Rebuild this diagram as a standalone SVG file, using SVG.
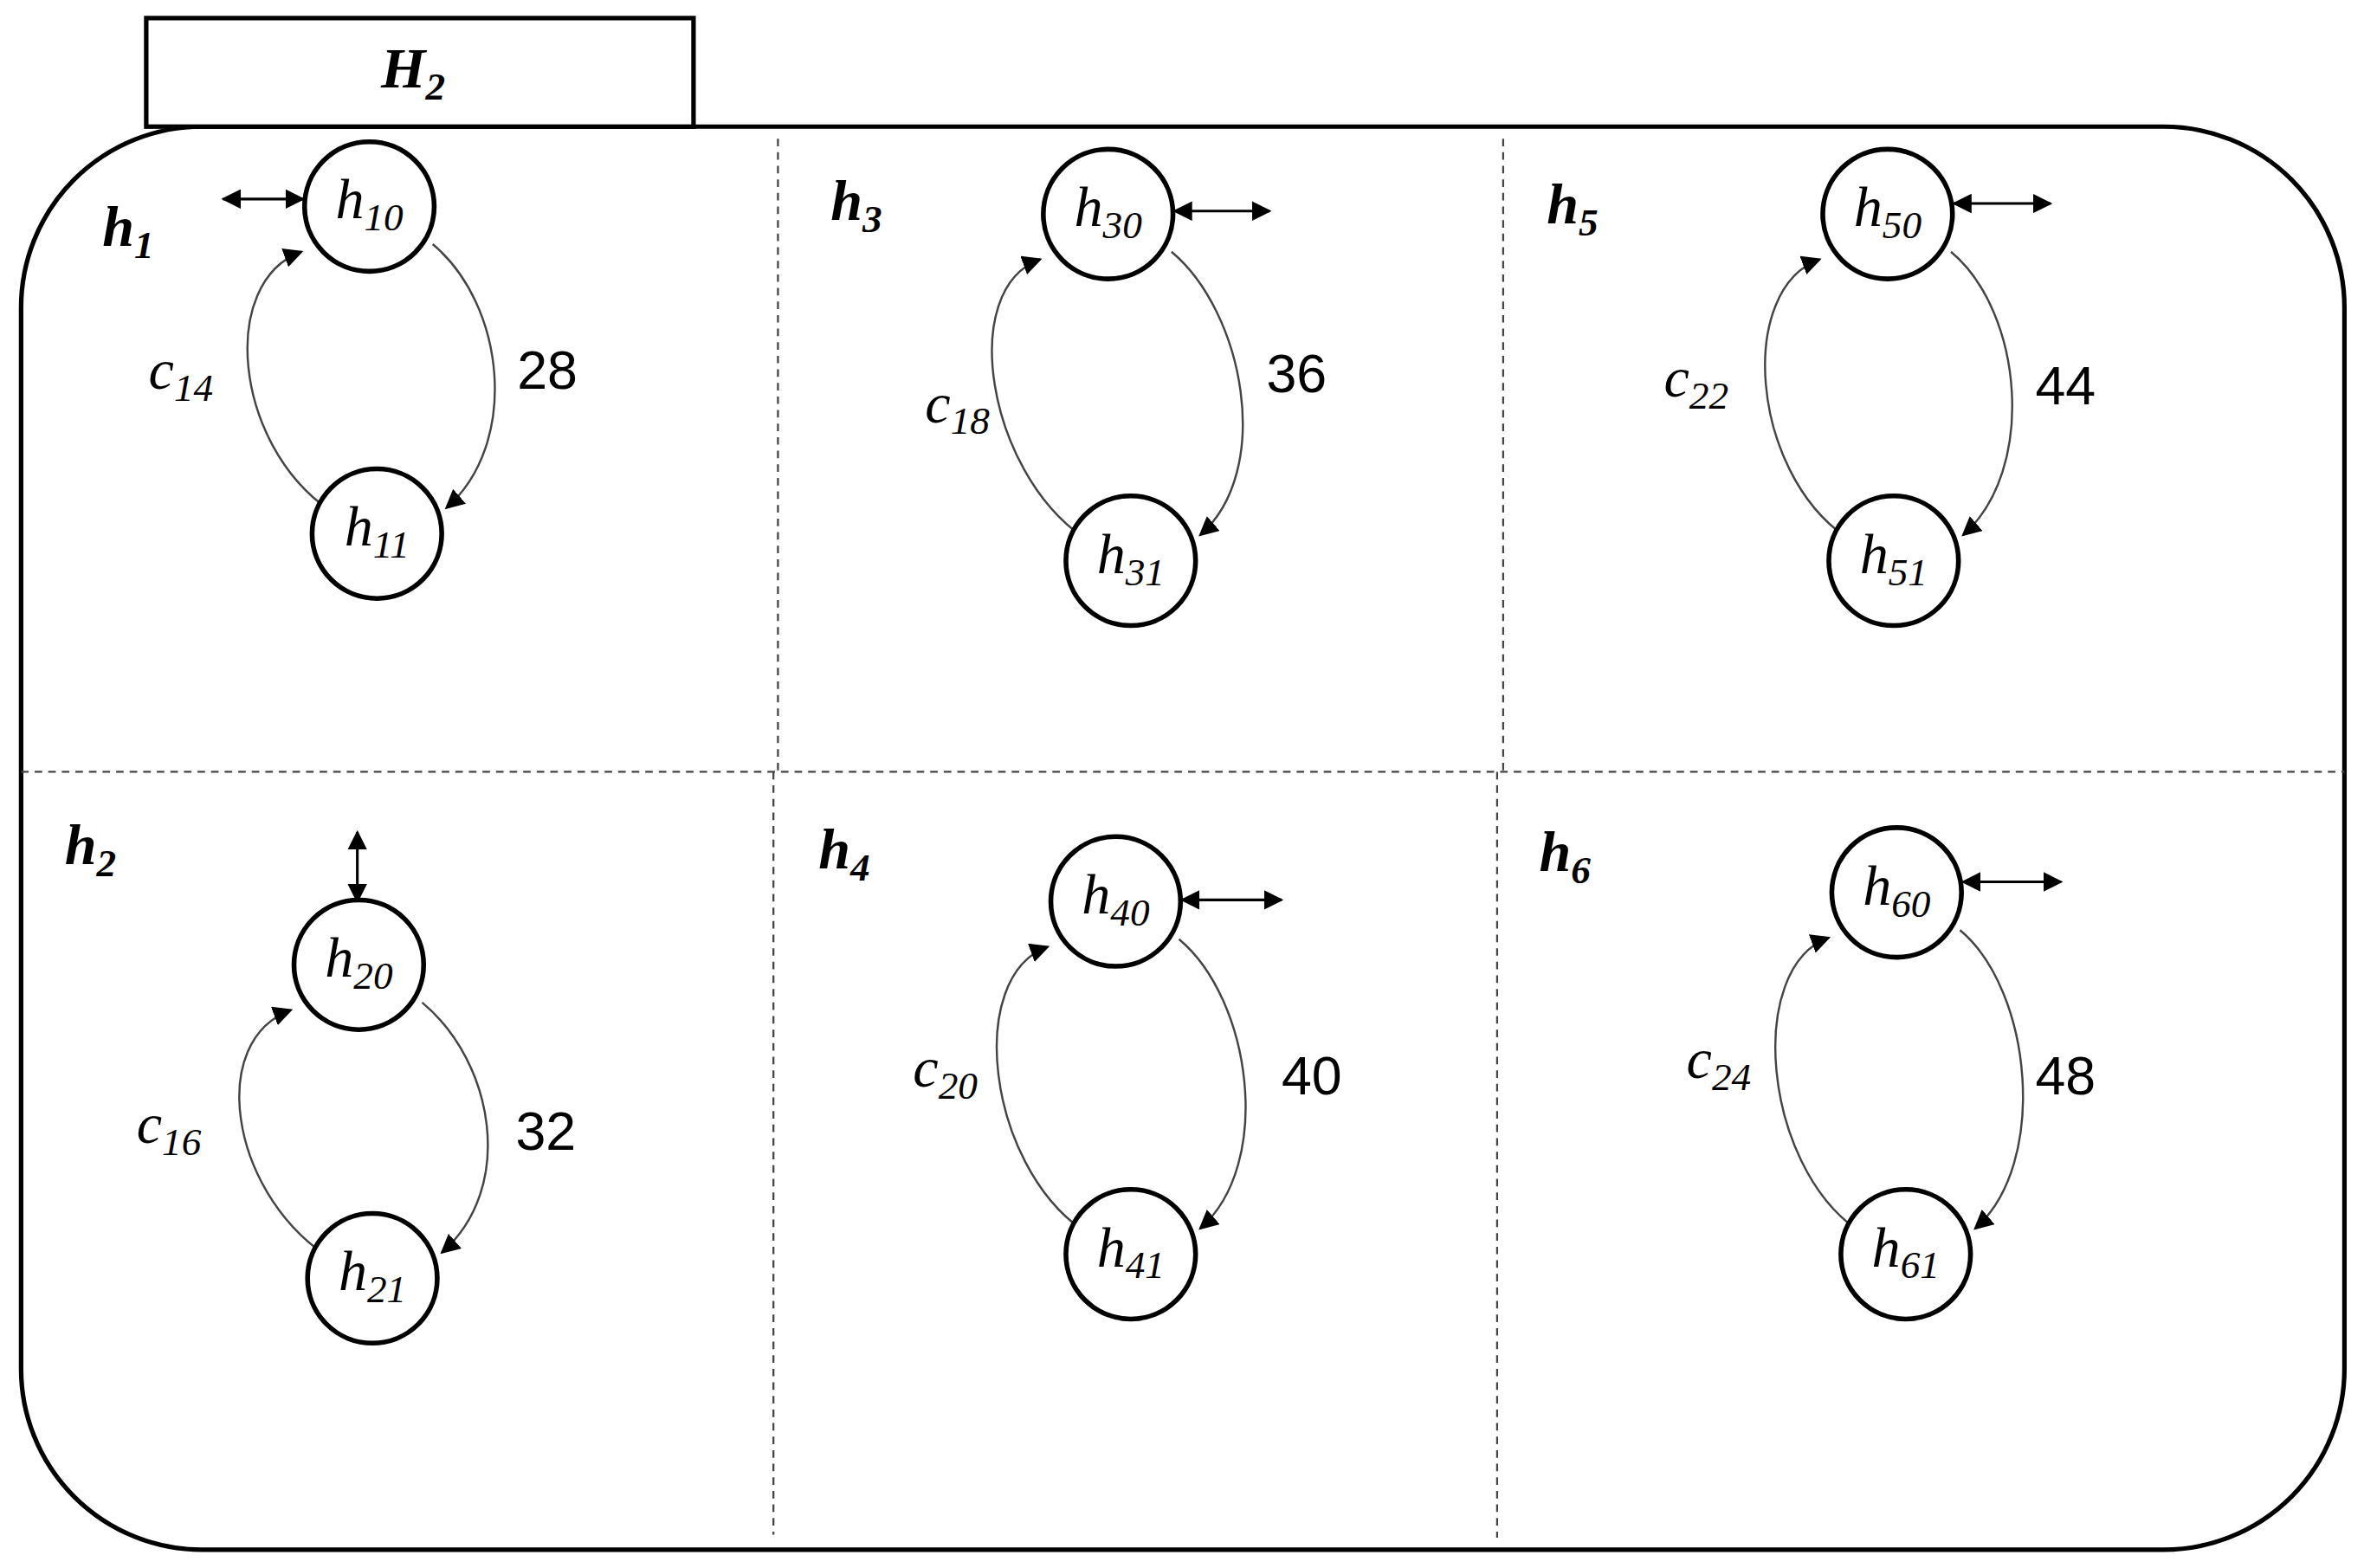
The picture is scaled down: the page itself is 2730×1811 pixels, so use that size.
<svg xmlns="http://www.w3.org/2000/svg" width="2730" height="1811" viewBox="0 0 2730 1811">
<defs>
<marker id="ah" viewBox="0 0 10 10" refX="9" refY="5" markerWidth="13" markerHeight="13" markerUnits="userSpaceOnUse" orient="auto-start-reverse"><path d="M0,0 L10,5 L0,10 z" fill="#000"/></marker>
</defs>
<style>
.nd{fill:#fff;stroke:#000;stroke-width:3.2}
.nt{font-family:"Liberation Serif",serif;font-style:italic;font-size:38px;text-anchor:middle}
.cl{font-family:"Liberation Serif",serif;font-style:italic;font-size:38px;text-anchor:middle}
.num{font-family:"Liberation Sans",sans-serif;font-size:36px;text-anchor:middle}
.lb{font-family:"Liberation Serif",serif;font-style:italic;font-weight:bold;font-size:38px;text-anchor:middle}
.cv{fill:none;stroke:#444;stroke-width:1.4;marker-end:url(#ah)}
.da{fill:none;stroke:#000;stroke-width:1.8;marker-start:url(#ah);marker-end:url(#ah)}
.dsh{stroke:#444;stroke-width:1.3;stroke-dasharray:5,4}
</style>
<rect width="2730" height="1811" fill="#fff"/>
<g transform="scale(1.7411)">
<g id="frame">
<rect x="14" y="84" width="1541" height="944" rx="120" ry="120" fill="none" stroke="#000" stroke-width="3"/>
<rect x="97" y="12" width="363" height="72" fill="#fff" stroke="#000" stroke-width="3"/>
<text x="274" y="58" class="lb">H<tspan font-size="26" dy="8">2</tspan></text>
<line x1="516" y1="92" x2="516" y2="512" class="dsh"/>
<line x1="997" y1="92" x2="997" y2="512" class="dsh"/>
<line x1="14" y1="512" x2="1555" y2="512" class="dsh"/>
<line x1="513" y1="512" x2="513" y2="1018" class="dsh"/>
<line x1="993" y1="512" x2="993" y2="1020" class="dsh"/>
</g>
<g id="connectors">
<path class="cv" d="M287,162 C335,202 345,294 296,337"/>
<path class="cv" d="M218,338 C155,294 145,187 200,167"/>
<path class="cv" d="M777,167 C825,207 845,312 796,355"/>
<path class="cv" d="M718,356 C655,312 635,192 690,172"/>
<path class="cv" d="M1294,167 C1342,207 1351,312 1302,355"/>
<path class="cv" d="M1224,356 C1161,312 1152,192 1207,172"/>
<path class="cv" d="M280,665 C328,705 342,788 293,831"/>
<path class="cv" d="M215,832 C152,788 138,690 193,670"/>
<path class="cv" d="M782,623 C830,663 845,772 796,815"/>
<path class="cv" d="M718,816 C655,772 640,648 695,628"/>
<path class="cv" d="M1300,617 C1348,657 1359,772 1310,815"/>
<path class="cv" d="M1232,816 C1169,772 1158,642 1213,622"/>
<line class="da" x1="148" y1="132" x2="201" y2="132"/>
<line class="da" x1="779" y1="140" x2="842" y2="140"/>
<line class="da" x1="1296" y1="135" x2="1360" y2="135"/>
<line class="da" x1="237" y1="552" x2="237" y2="598"/>
<line class="da" x1="784" y1="597" x2="850" y2="597"/>
<line class="da" x1="1302" y1="585" x2="1367" y2="585"/>
<text class="num" x="363" y="258">28</text>
<text class="num" x="860" y="260">36</text>
<text class="num" x="1370" y="268">44</text>
<text class="num" x="362" y="763">32</text>
<text class="num" x="870" y="726">40</text>
<text class="num" x="1370" y="726">48</text>
<text class="cl" x="120" y="258">c<tspan font-size="26" dy="8">14</tspan></text>
<text class="cl" x="635" y="280">c<tspan font-size="26" dy="8">18</tspan></text>
<text class="cl" x="1125" y="263">c<tspan font-size="26" dy="8">22</tspan></text>
<text class="cl" x="112" y="758">c<tspan font-size="26" dy="8">16</tspan></text>
<text class="cl" x="627" y="721">c<tspan font-size="26" dy="8">20</tspan></text>
<text class="cl" x="1140" y="715">c<tspan font-size="26" dy="8">24</tspan></text>
</g>
<g id="labels">
<text class="lb" x="85" y="163">h<tspan font-size="26" dy="8">1</tspan></text>
<text class="lb" x="568" y="146">h<tspan font-size="26" dy="8">3</tspan></text>
<text class="lb" x="1043" y="148">h<tspan font-size="26" dy="8">5</tspan></text>
<text class="lb" x="60" y="573">h<tspan font-size="26" dy="8">2</tspan></text>
<text class="lb" x="560" y="576">h<tspan font-size="26" dy="8">4</tspan></text>
<text class="lb" x="1038" y="578">h<tspan font-size="26" dy="8">6</tspan></text>
</g>
<g id="h10"><circle class="nd" cx="245" cy="137" r="43"/><text class="nt" x="245" y="145">h<tspan font-size="26" dy="8">10</tspan></text></g>
<g id="h11"><circle class="nd" cx="250" cy="354" r="43"/><text class="nt" x="250" y="362">h<tspan font-size="26" dy="8">11</tspan></text></g>
<g id="h30"><circle class="nd" cx="735" cy="142" r="43"/><text class="nt" x="735" y="150">h<tspan font-size="26" dy="8">30</tspan></text></g>
<g id="h31"><circle class="nd" cx="750" cy="372" r="43"/><text class="nt" x="750" y="380">h<tspan font-size="26" dy="8">31</tspan></text></g>
<g id="h50"><circle class="nd" cx="1252" cy="142" r="43"/><text class="nt" x="1252" y="150">h<tspan font-size="26" dy="8">50</tspan></text></g>
<g id="h51"><circle class="nd" cx="1256" cy="372" r="43"/><text class="nt" x="1256" y="380">h<tspan font-size="26" dy="8">51</tspan></text></g>
<g id="h20"><circle class="nd" cx="238" cy="640" r="43"/><text class="nt" x="238" y="648">h<tspan font-size="26" dy="8">20</tspan></text></g>
<g id="h21"><circle class="nd" cx="247" cy="848" r="43"/><text class="nt" x="247" y="856">h<tspan font-size="26" dy="8">21</tspan></text></g>
<g id="h40"><circle class="nd" cx="740" cy="598" r="43"/><text class="nt" x="740" y="606">h<tspan font-size="26" dy="8">40</tspan></text></g>
<g id="h41"><circle class="nd" cx="750" cy="832" r="43"/><text class="nt" x="750" y="840">h<tspan font-size="26" dy="8">41</tspan></text></g>
<g id="h60"><circle class="nd" cx="1258" cy="592" r="43"/><text class="nt" x="1258" y="600">h<tspan font-size="26" dy="8">60</tspan></text></g>
<g id="h61"><circle class="nd" cx="1264" cy="832" r="43"/><text class="nt" x="1264" y="840">h<tspan font-size="26" dy="8">61</tspan></text></g>
</g>
</svg>
